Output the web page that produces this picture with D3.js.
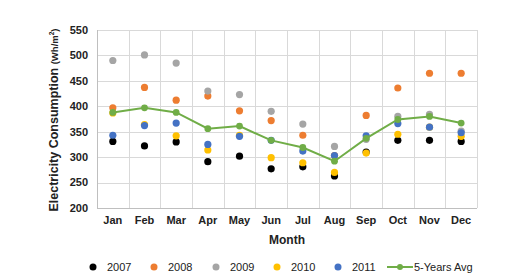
<!DOCTYPE html>
<meta charset="utf-8">
<style>
  body { margin: 0; background: #fff; }
  text { font-family: "Liberation Sans", Arial, sans-serif; }
  .grid line { stroke: #d9d9d9; stroke-width: 1; }
  .tick-lbl { font-size: 11px; font-weight: bold; fill: #222; }
  .legend text { font-size: 11px; fill: #222; }
</style>
<svg width="530" height="279"></svg>
<script src="https://d3js.org/d3.v7.min.js"></script>
<script>
var months = ["Jan", "Feb", "Mar", "Apr", "May", "Jun", "Jul", "Aug", "Sep", "Oct", "Nov", "Dec"];
var yTicks = [200, 250, 300, 350, 400, 450, 500, 550];

var y2007 = [331, 322, 330, 291, 302, 277, 281, 263, 310, 333, 333, 331];
var y2008 = [397, 437, 412, 420, 391, 372, 343, 303, 382, 436, 465, 465];
var y2009 = [490, 501, 485, 430, 423, 390, 365, 321, 335, 380, 384, 351];
var y2010 = [387, 364, 342, 314, 343, 299, 289, 270, 308, 345, 359, 341];
var y2011 = [343, 362, 367, 325, 341, 333, 312, 303, 342, 366, 359, 348];
var avg5  = [388, 397, 388, 356, 361, 333, 319, 292, 337, 374, 380, 367];

var series = [
  {name: "2007", values: y2007, color: "#000000"},
  {name: "2008", values: y2008, color: "#ED7D31"},
  {name: "2009", values: y2009, color: "#A5A5A5"},
  {name: "2010", values: y2010, color: "#FFC000"},
  {name: "2011", values: y2011, color: "#4472C4"}
];
var avgColor = "#70AD47";

var svg = d3.select("svg"),
    margin = {top: 30, left: 97, right: 53, bottom: 71},
    width = 530 - margin.left - margin.right,
    height = 279 - margin.top - margin.bottom;

var x = d3.scaleBand().domain(months).range([0, width]).paddingInner(0).paddingOuter(0);
var y = d3.scaleLinear().domain([200, 550]).range([height, 0]);

var g = svg.append("g").attr("transform", "translate(" + margin.left + "," + margin.top + ")");

// grid
var grid = g.append("g").attr("class", "grid");
grid.selectAll("line.h").data(yTicks).enter().append("line")
    .attr("x1", 0).attr("x2", width)
    .attr("y1", function(d) { return Math.round(y(d)) + 0.5; })
    .attr("y2", function(d) { return Math.round(y(d)) + 0.5; });
grid.selectAll("line.v").data(months.concat(["end"])).enter().append("line")
    .attr("x1", function(d, i) { return Math.round(i * x.step()) + 0.5; })
    .attr("x2", function(d, i) { return Math.round(i * x.step()) + 0.5; })
    .attr("y1", 0).attr("y2", height);

// axes lines
g.append("line").attr("x1", 0.5).attr("x2", 0.5).attr("y1", 0).attr("y2", height)
    .style("stroke", "#bfbfbf");
g.append("line").attr("x1", 0).attr("x2", width)
    .attr("y1", Math.round(height) + 0.5).attr("y2", Math.round(height) + 0.5)
    .style("stroke", "#bfbfbf");

// tick labels
g.selectAll("text.ylbl").data(yTicks).enter().append("text")
    .attr("class", "tick-lbl")
    .attr("x", -9).attr("y", function(d) { return y(d); })
    .attr("dy", "0.35em").attr("text-anchor", "end")
    .text(function(d) { return d; });
g.selectAll("text.xlbl").data(months).enter().append("text")
    .attr("class", "tick-lbl")
    .attr("x", function(d) { return x(d) + x.bandwidth() / 2; })
    .attr("y", height + 16)
    .attr("text-anchor", "middle")
    .text(function(d) { return d; });

// axis titles
g.append("text")
    .attr("x", width / 2).attr("y", height + 36)
    .attr("text-anchor", "middle")
    .style("font-size", "12px").style("font-weight", "bold").style("fill", "#222")
    .text("Month");
var yt = svg.append("text")
    .attr("transform", "translate(58," + (margin.top + height / 2 + 1) + ") rotate(-90)")
    .attr("text-anchor", "middle")
    .style("font-size", "12.5px").style("font-weight", "bold").style("fill", "#222");
yt.append("tspan").text("Electricity Consumption ");
yt.append("tspan").style("font-size", "9.5px").text("(Wh/m");
yt.append("tspan").style("font-size", "6.5px").attr("dy", "-4").text("2");
yt.append("tspan").style("font-size", "9.5px").attr("dy", "4").text(")");

function cx(d, i) { return x(months[i]) + x.bandwidth() / 2; }

// scatter points
series.forEach(function(s) {
  g.append("g").selectAll("circle").data(s.values).enter().append("circle")
      .attr("cx", cx)
      .attr("cy", function(d) { return y(d); })
      .attr("r", 3.6)
      .style("fill", s.color);
});

// average line
var line = d3.line().x(cx).y(function(d) { return y(d); });
g.append("path").datum(avg5)
    .attr("d", line)
    .style("fill", "none").style("stroke", avgColor).style("stroke-width", 2);
g.append("g").selectAll("circle").data(avg5).enter().append("circle")
    .attr("cx", cx).attr("cy", function(d) { return y(d); })
    .attr("r", 3.4).style("fill", avgColor);

// legend
var legX = [93, 154, 216, 277, 338];
var leg = svg.append("g").attr("class", "legend");
series.forEach(function(s, i) {
  leg.append("circle").attr("cx", legX[i]).attr("cy", 267).attr("r", 3.5).style("fill", s.color);
  leg.append("text").attr("x", legX[i] + 14).attr("y", 267).attr("dy", "0.35em").text(s.name);
});
leg.append("line").attr("x1", 387).attr("x2", 413).attr("y1", 267).attr("y2", 267)
    .style("stroke", avgColor).style("stroke-width", 2);
leg.append("circle").attr("cx", 400).attr("cy", 267).attr("r", 3).style("fill", avgColor);
leg.append("text").attr("x", 414).attr("y", 267).attr("dy", "0.35em").text("5-Years Avg");
</script>
